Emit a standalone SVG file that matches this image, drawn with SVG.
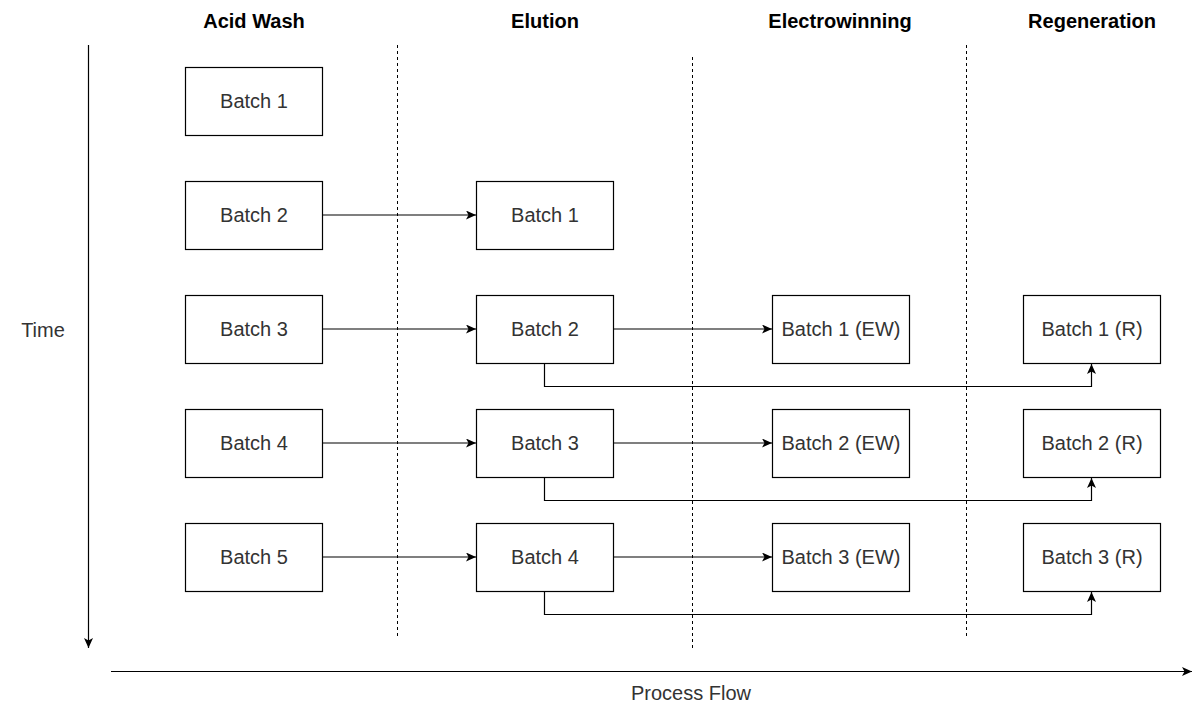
<svg xmlns="http://www.w3.org/2000/svg" width="1200" height="703" viewBox="0 0 1200 703">
<style>
.box{fill:#fff;stroke:#000;stroke-width:1.2}
.t{font-family:"Liberation Sans",Arial,sans-serif;font-size:20px;fill:#333;text-anchor:middle}
.h{font-family:"Liberation Sans",Arial,sans-serif;font-size:20px;font-weight:bold;fill:#000;text-anchor:middle}
.c{fill:none;stroke:#000;stroke-width:1.2}
.d{fill:none;stroke:#000;stroke-width:1;stroke-dasharray:3,3}
</style>
<defs>
<marker id="a" markerUnits="userSpaceOnUse" markerWidth="12" markerHeight="10" refX="10" refY="4.5" orient="auto" viewBox="0 0 12 10">
<path d="M0,0 L10,4.5 L0,9 L2.5,4.5 z" fill="#000"/>
</marker>
</defs>
<rect width="1200" height="703" fill="#fff"/>
<g id="headers">
<text class="h" x="254" y="28">Acid Wash</text>
<text class="h" x="545" y="28">Elution</text>
<text class="h" x="840" y="28">Electrowinning</text>
<text class="h" x="1092" y="28">Regeneration</text>
</g>
<g id="axes">
<line class="d" x1="397.5" y1="45" x2="397.5" y2="638"/>
<line class="d" x1="692.5" y1="57" x2="692.5" y2="650"/>
<line class="d" x1="966.5" y1="45" x2="966.5" y2="638"/>
<line class="c" x1="88.5" y1="45" x2="88.5" y2="648" marker-end="url(#a)"/>
<line class="c" x1="111" y1="671.5" x2="1192" y2="671.5" marker-end="url(#a)"/>
<text class="t" x="43" y="337">Time</text>
<text class="t" x="691" y="700">Process Flow</text>
</g>
<g id="connectors">
<line class="c" x1="322.5" y1="215" x2="476" y2="215" marker-end="url(#a)"/>
<line class="c" x1="322.5" y1="329" x2="476" y2="329" marker-end="url(#a)"/>
<line class="c" x1="322.5" y1="443" x2="476" y2="443" marker-end="url(#a)"/>
<line class="c" x1="322.5" y1="557" x2="476" y2="557" marker-end="url(#a)"/>
<line class="c" x1="613.5" y1="329" x2="772" y2="329" marker-end="url(#a)"/>
<line class="c" x1="613.5" y1="443" x2="772" y2="443" marker-end="url(#a)"/>
<line class="c" x1="613.5" y1="557" x2="772" y2="557" marker-end="url(#a)"/>
<path class="c" d="M544.5,363.5 V386.5 H1091.5 V364" marker-end="url(#a)"/>
<path class="c" d="M544.5,477.5 V500.5 H1091.5 V478" marker-end="url(#a)"/>
<path class="c" d="M544.5,591.5 V614.5 H1091.5 V592" marker-end="url(#a)"/>
</g>
<g id="aw1"><rect class="box" x="185.5" y="67.5" width="137" height="68"/><text class="t" x="254" y="108">Batch 1</text></g>
<g id="aw2"><rect class="box" x="185.5" y="181.5" width="137" height="68"/><text class="t" x="254" y="222">Batch 2</text></g>
<g id="aw3"><rect class="box" x="185.5" y="295.5" width="137" height="68"/><text class="t" x="254" y="336">Batch 3</text></g>
<g id="aw4"><rect class="box" x="185.5" y="409.5" width="137" height="68"/><text class="t" x="254" y="450">Batch 4</text></g>
<g id="aw5"><rect class="box" x="185.5" y="523.5" width="137" height="68"/><text class="t" x="254" y="564">Batch 5</text></g>
<g id="el1"><rect class="box" x="476.5" y="181.5" width="137" height="68"/><text class="t" x="545" y="222">Batch 1</text></g>
<g id="el2"><rect class="box" x="476.5" y="295.5" width="137" height="68"/><text class="t" x="545" y="336">Batch 2</text></g>
<g id="el3"><rect class="box" x="476.5" y="409.5" width="137" height="68"/><text class="t" x="545" y="450">Batch 3</text></g>
<g id="el4"><rect class="box" x="476.5" y="523.5" width="137" height="68"/><text class="t" x="545" y="564">Batch 4</text></g>
<g id="ew1"><rect class="box" x="772.5" y="295.5" width="137" height="68"/><text class="t" x="841" y="336">Batch 1 (EW)</text></g>
<g id="ew2"><rect class="box" x="772.5" y="409.5" width="137" height="68"/><text class="t" x="841" y="450">Batch 2 (EW)</text></g>
<g id="ew3"><rect class="box" x="772.5" y="523.5" width="137" height="68"/><text class="t" x="841" y="564">Batch 3 (EW)</text></g>
<g id="r1"><rect class="box" x="1023.5" y="295.5" width="137" height="68"/><text class="t" x="1092" y="336">Batch 1 (R)</text></g>
<g id="r2"><rect class="box" x="1023.5" y="409.5" width="137" height="68"/><text class="t" x="1092" y="450">Batch 2 (R)</text></g>
<g id="r3"><rect class="box" x="1023.5" y="523.5" width="137" height="68"/><text class="t" x="1092" y="564">Batch 3 (R)</text></g>
</svg>
